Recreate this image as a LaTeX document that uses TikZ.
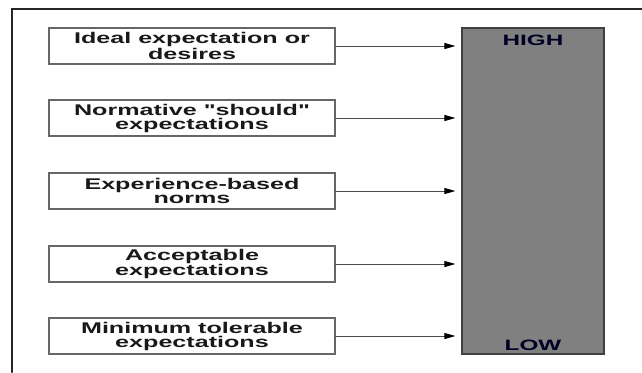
\documentclass[tikz,border=0pt]{standalone}
\usepackage{fontspec}
\newfontfamily\labelfont[FakeStretch=1.62]{Liberation Sans}
\usetikzlibrary{arrows.meta}

\begin{document}
\begin{tikzpicture}[x=1bp,y=-1bp,thick,line cap=round]
	\tikzstyle{expect}=[draw=gray!80!black,line width=1.2bp,minimum width=286bp,minimum height=36bp,inner sep=0pt,align=center,text=black!90,font=\labelfont\bfseries\fontsize{15.5bp}{14bp}\selectfont];
	\tikzstyle{level}=[font=\labelfont\bfseries\fontsize{15bp}{15bp}\selectfont,text=black!85!blue,inner sep=0pt];
	\tikzstyle{pointer}=[-{Triangle[length=11bp,width=6bp,color=black]},line width=1bp,draw=black!70,shorten >=6bp];
	\useasboundingbox (0,0) rectangle (642,372);
	%% frame
	\draw[line width=2bp,black!85] (12,372) -- (12,9) -- (642,9);
	%% scale bar
	\node[draw=black!75,line width=1.2bp,fill=gray,minimum width=142bp,minimum height=326bp,inner sep=0pt] (bar) at (533,191) {};
	\node[level] (high) at (533,40)  {HIGH};
	\node[level] (low)  at (533,345) {LOW};
	%% expectations
	\node[expect] (ideal)      at (192,46)  {Ideal expectation or\\desires};
	\node[expect] (normative)  at (192,118) {Normative "should"\\expectations};
	\node[expect] (experience) at (192,191) {Experience-based\\norms};
	\node[expect] (acceptable) at (192,264) {Acceptable\\expectations};
	\node[expect] (minimum)    at (192,336) {Minimum tolerable\\expectations};
	%% arrows
	\draw[pointer] (ideal.east)      -- (ideal.east -| bar.west);
	\draw[pointer] (normative.east)  -- (normative.east -| bar.west);
	\draw[pointer] (experience.east) -- (experience.east -| bar.west);
	\draw[pointer] (acceptable.east) -- (acceptable.east -| bar.west);
	\draw[pointer] (minimum.east)    -- (minimum.east -| bar.west);
\end{tikzpicture}
\end{document}
